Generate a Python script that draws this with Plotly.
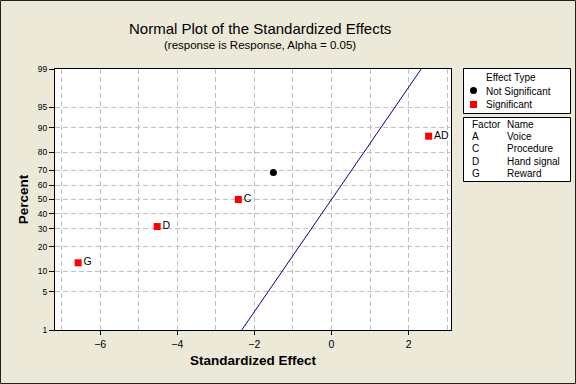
import plotly.graph_objects as go
from statistics import NormalDist

# ---- data ----
effect_labels = ["G", "D", "C", "", "AD"]
effect_values = [-6.57, -4.52, -2.415, -1.506, 2.52]
effect_percent = [12.96, 31.48, 50.0, 68.52, 87.04]
significant = [True, True, True, False, True]

line_effect = [-2.326, 2.326]
line_percent = [1, 99]

y_tick_percent = [1, 5, 10, 20, 30, 40, 50, 60, 70, 80, 90, 95, 99]
x_tick_vals = [-6, -4, -2, 0, 2]

factor_codes = ["A", "C", "D", "G"]
factor_names = ["Voice", "Procedure", "Hand signal", "Reward"]

nd = NormalDist()
def z(p):
    return nd.inv_cdf(p / 100.0)

W, H = 576, 384
L, R, T, B = 55, 451, 69, 330
def px(x):
    return (x - L) / (R - L)
def py(y):
    return (B - y) / (B - T)

FONT = "Liberation Sans"
BG = "#ECE9D8"

fig = go.Figure()

fig.add_trace(go.Scatter(
    x=line_effect, y=[z(p) for p in line_percent], mode="lines",
    line=dict(color="#000099", width=1), hoverinfo="skip", showlegend=False))

sx = [v for v, s in zip(effect_values, significant) if s]
sy = [z(p) for p, s in zip(effect_percent, significant) if s]
st = [t for t, s in zip(effect_labels, significant) if s]
nx = [v for v, s in zip(effect_values, significant) if not s]
ny = [z(p) for p, s in zip(effect_percent, significant) if not s]

fig.add_trace(go.Scatter(
    x=sx, y=sy, mode="markers+text", text=st, textposition="middle right",
    textfont=dict(family=FONT, size=10.5, color="black"),
    marker=dict(symbol="square", size=7, color="#FF0000"),
    showlegend=False, cliponaxis=False))
fig.add_trace(go.Scatter(
    x=nx, y=ny, mode="markers",
    marker=dict(symbol="circle", size=7, color="black"),
    showlegend=False, cliponaxis=False))

grid = dict(gridcolor="#C0C0C0", griddash="5px,3px", gridwidth=1)

fig.update_xaxes(
    range=[-7.17, 3.1], tickvals=x_tick_vals, ticks="outside", ticklen=4,
    tickcolor="black", showline=True, linecolor="black", linewidth=1, mirror=True,
    zeroline=False, showgrid=False,
    tickfont=dict(family=FONT, size=10.5, color="black"),
    minor=dict(dtick=1, tick0=0, showgrid=True, ticks="", **grid),
    title=dict(text="<b>Standardized Effect</b>", font=dict(family=FONT, size=13.5, color="black"), standoff=6),
)
fig.update_yaxes(
    range=[z(1), z(99)], tickvals=[z(p) for p in y_tick_percent],
    ticktext=[str(p) for p in y_tick_percent], ticks="outside", ticklen=5,
    tickcolor="black", showline=True, linecolor="black", linewidth=1, mirror=True,
    zeroline=False, showgrid=True, **grid,
    tickfont=dict(family=FONT, size=8.5, color="black"),
    title=dict(text="<b>Percent</b>", font=dict(family=FONT, size=13.5, color="black"), standoff=6),
)

shapes = []
# outer frame
shapes.append(dict(type="rect", xref="paper", yref="paper",
                   x0=px(0.5), x1=px(575.5), y0=py(383.5), y1=py(0.5),
                   line=dict(color="#202020", width=1), layer="below"))
# legend boxes
shapes.append(dict(type="rect", xref="paper", yref="paper",
                   x0=px(463.5), x1=px(570.5), y0=py(113.5), y1=py(68.5),
                   line=dict(color="black", width=1), fillcolor="white"))
shapes.append(dict(type="rect", xref="paper", yref="paper",
                   x0=px(463.5), x1=px(570.5), y0=py(181.5), y1=py(117.5),
                   line=dict(color="black", width=1), fillcolor="white"))
# legend symbols
shapes.append(dict(type="circle", xref="paper", yref="paper",
                   x0=px(470), x1=px(477), y0=py(94), y1=py(87),
                   line=dict(color="black", width=0), fillcolor="black"))
shapes.append(dict(type="rect", xref="paper", yref="paper",
                   x0=px(470), x1=px(477), y0=py(108), y1=py(101),
                   line=dict(color="#FF0000", width=0), fillcolor="#FF0000"))

ann = []
def text(x, y, s, size=10, anchor="left"):
    ann.append(dict(x=px(x), y=py(y), xref="paper", yref="paper", text=s,
                    showarrow=False, xanchor=anchor, yanchor="middle",
                    xshift=-1 if anchor == "left" else 0,
                    font=dict(family=FONT, size=size, color="black")))

text(260, 28, "Normal Plot of the Standardized Effects", size=15, anchor="center")
text(260, 45, "(response is Response, Alpha = 0.05)", size=11.5, anchor="center")
text(485, 77, "Effect Type")
text(485, 91, "Not Significant")
text(485, 104.5, "Significant")
text(471, 124.5, "Factor")
text(505.5, 124.5, "Name")
for i, (c, n) in enumerate(zip(factor_codes, factor_names)):
    yy = 136.7 + i * 12.2
    text(471, yy, c)
    text(505.5, yy, n)

fig.update_layout(
    width=W, height=H, paper_bgcolor=BG, plot_bgcolor="white",
    margin=dict(l=L, r=W - R, t=T, b=H - B),
    shapes=shapes, annotations=ann, showlegend=False,
    font=dict(family=FONT, color="black"),
)

fig.write_html("out.html", config={"displayModeBar": False},
               post_script="document.body.style.margin='0';document.body.style.background='" + BG + "';")
